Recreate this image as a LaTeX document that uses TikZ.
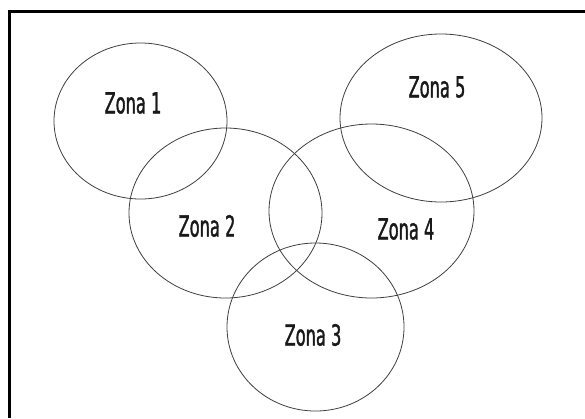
\documentclass[tikz,border=0pt]{standalone}
\usepackage{fontspec}
\newfontfamily\zonafont[FakeStretch=0.56,FakeBold=1.2]{DejaVu Sans}
\tikzset{
  zone/.style={draw=black!75, line width=0.8pt},
  zlabel/.style={font=\zonafont\fontsize{29}{32}\selectfont, text=black!90, inner sep=0pt, anchor=center},
  frameline/.style={draw=black, line width=3pt}
}
\begin{document}
\begin{tikzpicture}[x=1pt,y=-1pt]
\useasboundingbox (0,0) rectangle (585,418);
\fill[white] (0,0) rectangle (585,418);
% frame (top and left lines only)
\coordinate (fl) at (9,418);
\coordinate (fr) at (585,11.5);
\draw[frameline] (fl) -- (9,10) (7.5,11.5) -- (fr);
% zones
\draw[zone] (140.5,121) ellipse [x radius=86.5, y radius=78];
\draw[zone] (225.5,213) ellipse [x radius=96.5, y radius=85];
\draw[zone] (315.5,327) ellipse [x radius=88.5, y radius=84];
\draw[zone] (371.5,211) ellipse [x radius=102.5, y radius=87];
\draw[zone] (441,118) ellipse [x radius=101, y radius=84];
% labels
\node[zlabel] (z1) at (133,103) {Zona 1};
\node[zlabel] (z2) at (207,226) {Zona 2};
\node[zlabel] (z3) at (313,335) {Zona 3};
\node[zlabel] (z4) at (406,229) {Zona 4};
\node[zlabel] (z5) at (437,87) {Zona 5};
\end{tikzpicture}
\end{document}
